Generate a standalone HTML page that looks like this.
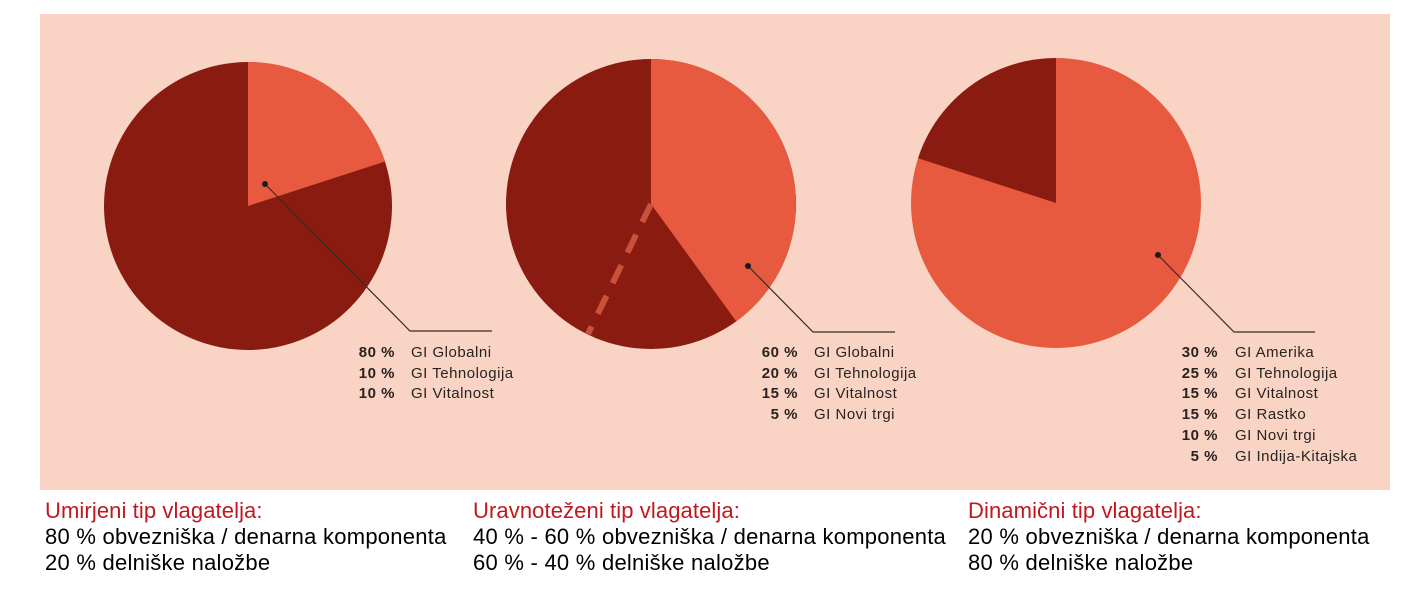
<!DOCTYPE html>
<html><head><meta charset="utf-8"><style>
body{margin:0;background:#fff;width:1401px;height:589px;overflow:hidden;font-family:"Liberation Sans",Arial,sans-serif}
.cap{position:absolute;font-size:22px;line-height:26px;color:#000;white-space:nowrap;letter-spacing:0.25px}
.cap .t{color:#c0181f;font-size:22px;letter-spacing:0.1px}
</style></head><body>
<svg width="1401" height="589" style="position:absolute;left:0;top:0" font-family="Liberation Sans, Arial, sans-serif">
<rect x="40" y="14" width="1350" height="476" fill="#f9d4c4"/>
<circle cx="248" cy="206" r="144" fill="#8a1b10"/>
<path d="M248,206 L248,62 A144,144 0 0 1 384.95,161.5 Z" fill="#e85a40"/>
<circle cx="651" cy="204" r="145" fill="#8a1b10"/>
<path d="M651,204 L651,59 A145,145 0 0 1 736.2,321.3 Z" fill="#e85a40"/>
<line x1="651" y1="204" x2="588" y2="334" stroke="#c9503a" stroke-width="6" stroke-dasharray="20,14"/>
<circle cx="1056" cy="203" r="145" fill="#e85a40"/>
<path d="M1056,203 L918.1,158.2 A145,145 0 0 1 1056,58 Z" fill="#8a1b10"/>
<g stroke="#3a2a26" stroke-width="1.2" fill="none">
<polyline points="265,184 410,331 492,331"/>
<polyline points="748,266 813,332 895,332"/>
<polyline points="1158,255 1234,332 1315,332"/>
</g>
<g fill="#1a1a1a"><circle cx="265" cy="184" r="3"/><circle cx="748" cy="266" r="3"/><circle cx="1158" cy="255" r="3"/></g>
<g font-size="15" fill="#2a2220" letter-spacing="0.5">
<g text-anchor="end" font-weight="bold">
<text x="395" y="357">80 %</text><text x="395" y="378">10 %</text><text x="395" y="398">10 %</text>
<text x="798" y="357">60 %</text><text x="798" y="378">20 %</text><text x="798" y="398">15 %</text><text x="798" y="419">5 %</text>
<text x="1218" y="357">30 %</text><text x="1218" y="378">25 %</text><text x="1218" y="398">15 %</text><text x="1218" y="419">15 %</text><text x="1218" y="440">10 %</text><text x="1218" y="461">5 %</text>
</g>
<text x="411" y="357">GI Globalni</text><text x="411" y="378">GI Tehnologija</text><text x="411" y="398">GI Vitalnost</text>
<text x="814" y="357">GI Globalni</text><text x="814" y="378">GI Tehnologija</text><text x="814" y="398">GI Vitalnost</text><text x="814" y="419">GI Novi trgi</text>
<text x="1235" y="357">GI Amerika</text><text x="1235" y="378">GI Tehnologija</text><text x="1235" y="398">GI Vitalnost</text><text x="1235" y="419">GI Rastko</text><text x="1235" y="440">GI Novi trgi</text><text x="1235" y="461">GI Indija-Kitajska</text>
</g>
</svg>
<div class="cap" style="left:45px;top:498px"><div class="t">Umirjeni tip vlagatelja:</div><div>80 % obvezniška / denarna komponenta</div><div>20 % delniške naložbe</div></div>
<div class="cap" style="left:473px;top:498px"><div class="t">Uravnoteženi tip vlagatelja:</div><div>40 % - 60 % obvezniška / denarna komponenta</div><div>60 % - 40 % delniške naložbe</div></div>
<div class="cap" style="left:968px;top:498px"><div class="t">Dinamični tip vlagatelja:</div><div>20 % obvezniška / denarna komponenta</div><div>80 % delniške naložbe</div></div>
</body></html>
